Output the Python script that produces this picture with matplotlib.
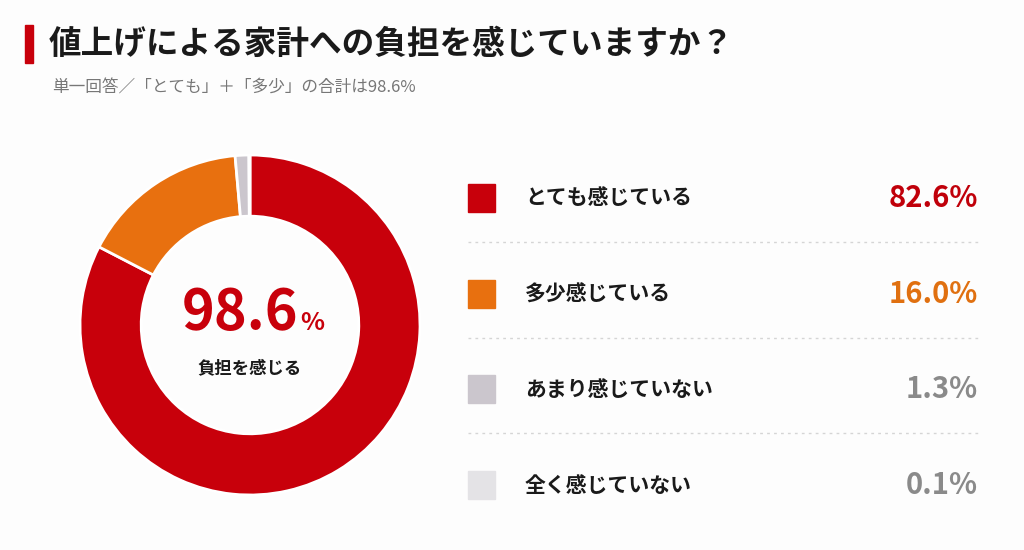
import matplotlib
matplotlib.use("Agg")
import matplotlib.pyplot as plt

plt.rcParams['font.family'] = ['Noto Sans CJK JP', 'DejaVu Sans']

# data
labels = ["とても感じている", "多少感じている", "あまり感じていない", "全く感じていない"]
values = [82.6, 16.0, 1.3, 0.1]
colors = ["#c8000b", "#e8700f", "#cbc6cd", "#e4e3e6"]
value_colors = ["#c0000a", "#e07010", "#8a8a8a", "#8a8a8a"]
total_label = "98.6"

W, H = 1024, 550
fig = plt.figure(figsize=(W / 100, H / 100), dpi=100)
fig.patch.set_facecolor("#fdfdfd")

# background axes in pixel coordinates
bg = fig.add_axes([0, 0, 1, 1])
bg.set_xlim(0, W)
bg.set_ylim(H, 0)
bg.axis("off")

# title
bg.add_patch(plt.Rectangle((25, 25), 8, 38, color="#c8000b"))
bg.text(49, 44, "値上げによる家計への負担を感じていますか？", fontsize=23.5, fontweight="bold",
        color="#1a1a1a", va="center", ha="left")
bg.text(52, 88, "単一回答／「とても」＋「多少」の合計は98.6%", fontsize=12, color="#777777",
        va="center", ha="left")

# legend rows
row_y = [198, 294, 389, 485]
for i, (lab, v) in enumerate(zip(labels, values)):
    y = row_y[i]
    bg.add_patch(plt.Rectangle((468, y - 14), 27, 28, color=colors[i]))
    bg.text(525, y, lab, fontsize=15, fontweight="bold", color="#1a1a1a", va="center", ha="left")
    bg.text(978, y, f"{v:.1f}%", fontsize=21, fontweight="bold", color=value_colors[i],
            va="center", ha="right")
    if i < len(labels) - 1:
        ly = (row_y[i] + row_y[i + 1]) / 2 - 4
        bg.plot([468, 978], [ly, ly], color="#d5d5d5", lw=1, ls=(0, (2, 3)))

# donut
cx, cy, r = 250, 325, 170
ax = fig.add_axes([(cx - r) / W, (H - cy - r) / H, 2 * r / W, 2 * r / H])
ax.pie(values, colors=colors, startangle=90, counterclock=False, radius=1,
       wedgeprops=dict(width=0.36, edgecolor="white", linewidth=2))
ax.set_xlim(-1, 1)
ax.set_ylim(-1, 1)
ax.set_aspect("equal")

# center text
bg.text(298, 313, total_label, fontsize=40, fontweight="bold", color="#c8000b",
        ha="right", va="center")
bg.text(300, 323, "%", fontsize=18, fontweight="bold", color="#c8000b", ha="left", va="center")
bg.text(250, 368, "負担を感じる", fontsize=12.5, fontweight="bold", color="#1a1a1a",
        ha="center", va="center")

fig.savefig("out.png", dpi=100, facecolor=fig.get_facecolor())
